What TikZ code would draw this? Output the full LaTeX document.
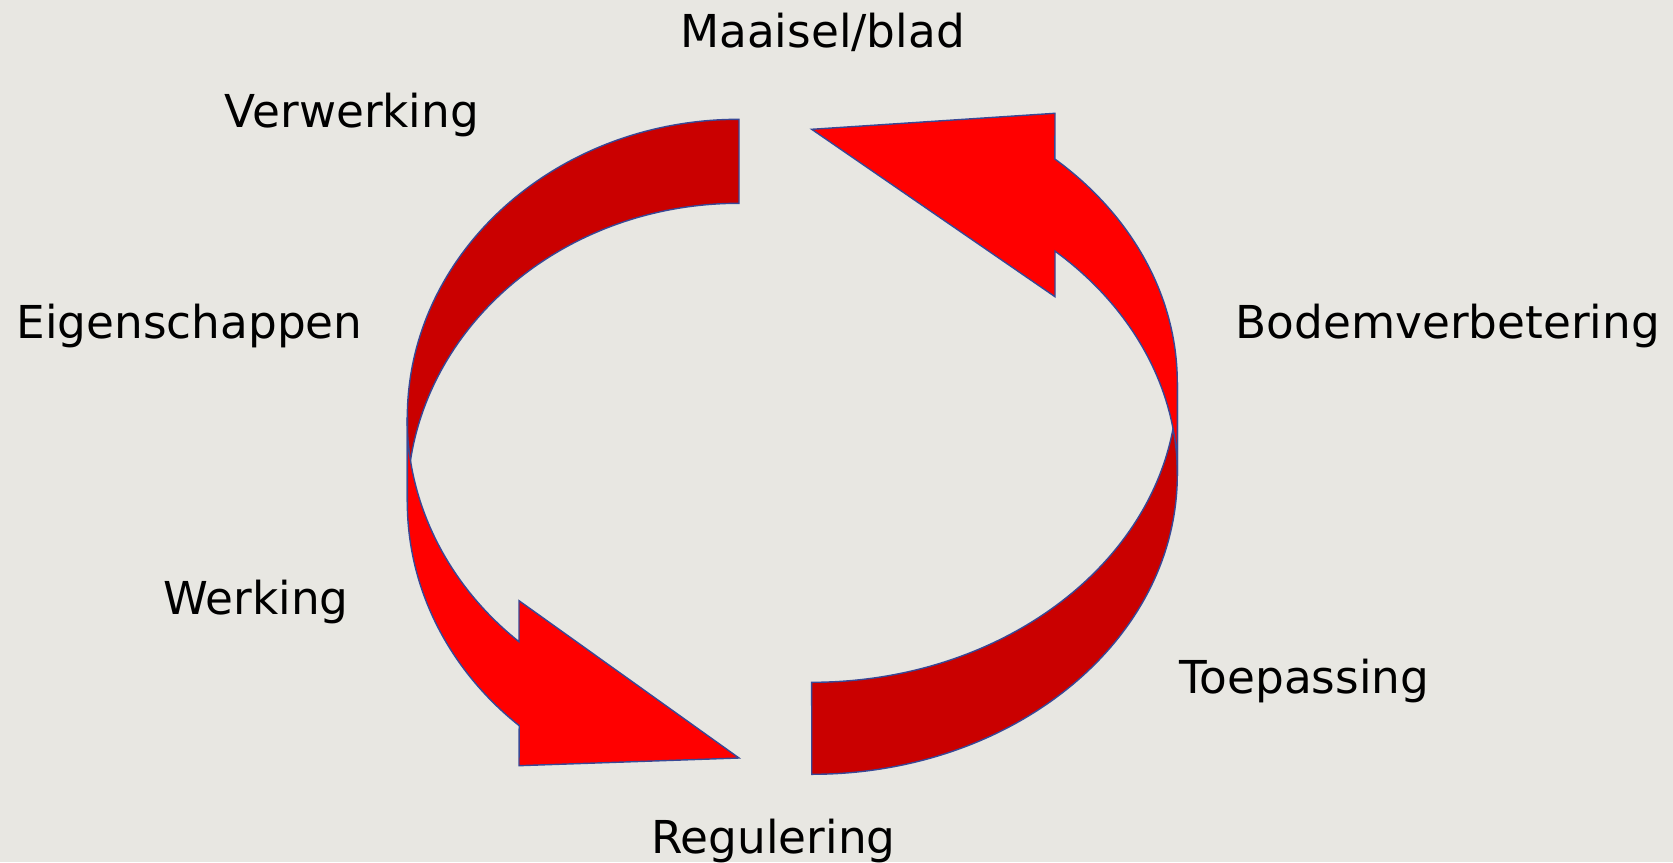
\documentclass[tikz,border=0pt]{standalone}
\usepackage{fontspec}
\setmainfont{DejaVu Sans}
\usepackage{tikz}

\definecolor{bg}{RGB}{232,231,226}
\definecolor{lightred}{RGB}{255,0,0}
\definecolor{darkred}{RGB}{202,0,0}
\definecolor{rim}{RGB}{56,72,150}

\begin{document}
\begin{tikzpicture}[line width=0.4pt, every node/.style={font=\fontsize{12.9}{15}\selectfont, inner sep=0pt, anchor=base},
    lring/.style={x radius=3.317, y radius=2.987}, rring/.style={x radius=3.656, y radius=2.996}]

    \fill[bg] (0,0) rectangle (16.73,8.62);
    \useasboundingbox (0,0) rectangle (16.73,8.62);

    \filldraw[fill=darkred,draw=rim] (7.39,7.427) arc[lring,start angle=90,end angle=180] -- (4.073,3.60) arc[lring,start angle=180,end angle=90] -- cycle;
    \filldraw[fill=lightred,draw=rim] (4.073,4.44) -- (4.073,3.60) arc[lring,start angle=180,end angle=228.5] -- (5.19,0.963) -- (7.39,1.04) -- (5.19,2.613) -- (5.19,2.203) arc[lring,start angle=228.5,end angle=180] -- cycle;

    \filldraw[fill=darkred,draw=rim] (8.117,0.877) arc[rring,start angle=270,end angle=360] -- (11.773,4.793) arc[rring,start angle=0,end angle=-90] -- cycle;
    \filldraw[fill=lightred,draw=rim] (11.773,3.873) -- (11.773,4.793) arc[rring,start angle=0,end angle=48.3] -- (10.55,7.487) -- (8.117,7.327) -- (10.55,5.653) -- (10.55,6.109) arc[rring,start angle=48.3,end angle=0] -- cycle;

    \node (maaisel) at (8.225,8.143) {Maaisel/blad};
    \node (verwerking) at (3.52,7.343) {Verwerking};
    \node (eigenschappen) at (1.895,5.24) {Eigenschappen};
    \node (bodem) at (14.478,5.24) {Bodemverbetering};
    \node (werking) at (2.56,2.474) {Werking};
    \node (toepassing) at (13.045,1.685) {Toepassing};
    \node (regulering) at (7.735,0.084) {Regulering};

\end{tikzpicture}
\end{document}
